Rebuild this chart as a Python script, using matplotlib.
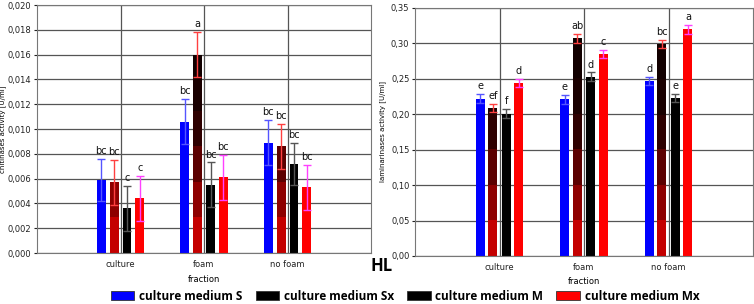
import numpy as np
import matplotlib.pyplot as plt
from matplotlib.colors import ListedColormap
from matplotlib.patches import Patch

fractions = ["culture", "foam", "no foam"]
media = ["culture medium S", "culture medium Sx", "culture medium M", "culture medium Mx"]

# chitinases activity [U/ml]
chit_S = [0.0059, 0.0106, 0.0089]
chit_Sx = [0.0057, 0.0160, 0.0086]
chit_M = [0.0036, 0.0055, 0.0072]
chit_Mx = [0.0044, 0.0061, 0.0053]
chit_err_S = [0.0017, 0.0018, 0.0018]
chit_err_Sx = [0.0018, 0.0018, 0.0018]
chit_err_M = [0.0018, 0.0018, 0.0017]
chit_err_Mx = [0.0018, 0.0018, 0.0018]
chit_letters = [["bc", "bc", "c", "c"], ["bc", "a", "bc", "bc"], ["bc", "bc", "bc", "bc"]]

# laminarinases activity [U/ml]
lam_S = [0.222, 0.221, 0.247]
lam_Sx = [0.209, 0.307, 0.299]
lam_M = [0.201, 0.253, 0.223]
lam_Mx = [0.244, 0.285, 0.320]
lam_err_S = [0.006, 0.006, 0.005]
lam_err_Sx = [0.006, 0.006, 0.006]
lam_err_M = [0.006, 0.006, 0.006]
lam_err_Mx = [0.006, 0.006, 0.006]
lam_letters = [["e", "ef", "f", "d"], ["e", "ab", "d", "c"], ["d", "bc", "e", "a"]]

bar_colors = ["#0000ff", None, "#000000", "#ff0000"]
err_colors = ["#5555ff", "#ff4040", "#555555", "#ff40ff"]
sx_cmap = ListedColormap(["#c40000", "#8e0000", "#5c0000", "#2e0000", "#1a0000", "#120000", "#0c0000"])

offsets = [-0.23, -0.078, 0.078, 0.23]
width = 0.105


def draw(ax, vals, errs, letters, ymax, ystep, ylabel, label_x):
    x = np.arange(1, len(fractions) + 1)
    ax.set_xlim(0, 4)
    ax.set_ylim(0, ymax)
    ax.set_yticks(np.arange(0, ymax + ystep / 2, ystep))
    dec = 3 if ymax < 0.1 else 2
    ax.set_yticklabels([f"{t:.{dec}f}".replace(".", ",") for t in ax.get_yticks()])
    ax.set_xticks(x)
    ax.set_xticklabels(fractions)
    ax.grid(True, color="#555555", linewidth=0.9)
    ax.set_axisbelow(True)
    grad = np.linspace(0, 1, 200).reshape(-1, 1)
    for k in range(4):
        pos = x + offsets[k]
        if bar_colors[k] is None:
            bars = ax.bar(pos, vals[k], width, color="none", edgecolor="none", zorder=2)
            for b in bars:
                im = ax.imshow(grad, cmap=sx_cmap, origin="lower", aspect="auto",
                               extent=[0, 4, 0, ymax], zorder=2, interpolation="nearest")
                im.set_clip_path(b)
        else:
            ax.bar(pos, vals[k], width, color=bar_colors[k], zorder=2)
        ax.errorbar(pos, vals[k], yerr=errs[k], fmt="none", ecolor=err_colors[k],
                    elinewidth=1.0, capsize=3, capthick=1.0, zorder=3)
        for i in range(len(x)):
            ax.text(pos[i], vals[k][i] + errs[k][i] + ymax * 0.012, letters[i][k],
                    ha="center", va="bottom", fontsize=7, color="#111111")
    ax.set_xlim(0, 4)
    ax.set_ylim(0, ymax)
    ax.set_ylabel(ylabel, fontsize=5)
    ax.yaxis.set_label_coords(label_x, 0.5)
    ax.set_xlabel("fraction", fontsize=6, labelpad=4)
    ax.tick_params(axis="both", labelsize=6, length=2, pad=2, colors="#222222")
    ax.tick_params(axis="x", length=0, pad=5)
    for s in ax.spines.values():
        s.set_color("#777777")


fig = plt.figure(figsize=(7.54, 3.04), dpi=100)
ax1 = fig.add_axes([37 / 754, 1 - 253 / 304, 334 / 754, 248 / 304])
ax2 = fig.add_axes([415 / 754, 1 - 256 / 304, 338 / 754, 248 / 304])

draw(ax1, [chit_S, chit_Sx, chit_M, chit_Mx],
     [chit_err_S, chit_err_Sx, chit_err_M, chit_err_Mx],
     chit_letters, 0.020, 0.002, "chitinases activity [U/ml]", -0.093)
draw(ax2, [lam_S, lam_Sx, lam_M, lam_Mx],
     [lam_err_S, lam_err_Sx, lam_err_M, lam_err_Mx],
     lam_letters, 0.35, 0.05, "laminarinases activity [U/ml]", -0.085)

fig.text(382 / 754, 1 - 266 / 304, "HL", fontsize=12, fontweight="bold",
         family="Open Sans", ha="center", va="center")

handles = [Patch(facecolor=c, edgecolor="#333333", linewidth=0.6)
           for c in ["#0000ff", "#000000", "#000000", "#ff0000"]]
fig.legend(handles, media, loc="center", bbox_to_anchor=(405 / 754, 1 - 296 / 304), ncol=4,
           frameon=False, prop={"family": "Open Sans", "weight": "bold", "size": 8.5},
           handlelength=2.0, handleheight=0.9, handletextpad=0.4, columnspacing=1.1)

fig.savefig("out.png", dpi=100)
